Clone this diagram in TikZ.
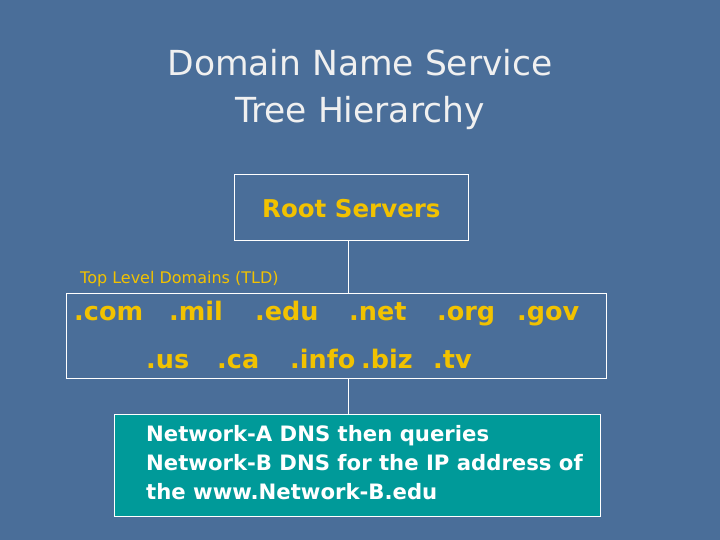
\documentclass[tikz,border=0pt]{standalone}
\usepackage{fontspec}
\setmainfont{DejaVu Sans}
\definecolor{bg}{HTML}{4A6E99}
\definecolor{yel}{HTML}{F2C200}
\definecolor{teal2}{HTML}{009A99}
\definecolor{ttl}{HTML}{F0F0F0}
\begin{document}
\begin{tikzpicture}[x=1pt,y=-1pt,
 tld/.style={text=yel,font=\bfseries\fontsize{25.5}{28}\selectfont,inner sep=0pt,anchor=base west},
 btxt/.style={text=white,font=\bfseries\fontsize{21.2}{29}\selectfont,inner sep=0pt,anchor=base west},
 wline/.style={draw=white,line width=0.9pt}]
\fill[bg] (0,0) rectangle (720,540);
\useasboundingbox (0,0) rectangle (720,540);
\node[text=ttl,font=\fontsize{34.5}{48}\selectfont,inner sep=0pt,anchor=base] (t1) at (360,76) {Domain Name Service};
\node[text=ttl,font=\fontsize{34.5}{48}\selectfont,inner sep=0pt,anchor=base] (t2) at (360,123) {Tree Hierarchy};
\node[wline,minimum width=234,minimum height=66] (root) at (351,207) {};
\node[text=yel,font=\bfseries\fontsize{24.5}{28}\selectfont,inner sep=0pt,anchor=base west] (roott) at (262,218) {Root Servers};
\node[text=yel,font=\fontsize{16}{18}\selectfont,inner sep=0pt,anchor=base west] (lbl) at (80,283) {Top Level Domains (TLD)};
\node[wline,minimum width=540,minimum height=85] (tldbox) at (336,335.5) {};
\node[tld] (com) at (74,320) {.com};
\node[tld] (mil) at (169,320) {.mil};
\node[tld] (edu) at (255,320) {.edu};
\node[tld] (net) at (349,320) {.net};
\node[tld] (org) at (437,320) {.org};
\node[tld] (gov) at (517,320) {.gov};
\node[tld] (us) at (146,368) {.us};
\node[tld] (ca) at (217,368) {.ca};
\node[tld] (info) at (290,368) {.info};
\node[tld] (biz) at (361,368) {.biz};
\node[tld] (tv) at (433,368) {.tv};
\node[fill=teal2,draw=white,line width=0.9pt,minimum width=486,minimum height=102] (net2) at (357,465) {};
\node[btxt] (n1) at (146,441) {Network-A DNS then queries};
\node[btxt] (n2) at (146,470) {Network-B DNS for the IP address of};
\node[btxt] (n3) at (146,499) {the www.Network-B.edu};
\draw[white,line width=0.9pt] (root.south -| 348,0) -- (tldbox.north -| 348,0);
\draw[white,line width=0.9pt] (tldbox.south -| 348,0) -- (net2.north -| 348,0);
\end{tikzpicture}
\end{document}
